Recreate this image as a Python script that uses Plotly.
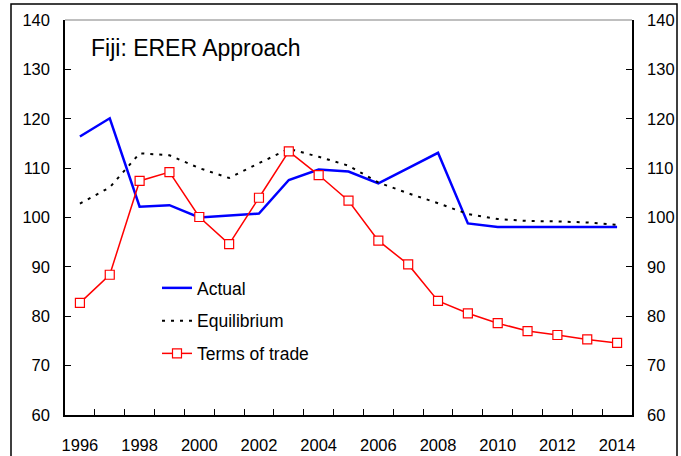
import plotly.graph_objects as go

# Annual index values, 1996-2014
years = list(range(1996, 2015))
actual = [116.4, 120.1, 102.2, 102.5, 100.0, 100.4, 100.8, 107.6, 109.7, 109.3,
          106.9, 110.0, 113.1, 98.8, 98.1, 98.1, 98.1, 98.1, 98.1]
equilibrium = [102.8, 106.1, 113.0, 112.6, 110.0, 108.0, 111.0, 113.9, 112.3, 110.5,
               107.1, 104.9, 102.9, 100.7, 99.7, 99.3, 99.2, 99.0, 98.5]
terms_of_trade = [82.7, 88.4, 107.4, 109.2, 100.1, 94.6, 104.0, 113.4, 108.6, 103.4,
                  95.3, 90.5, 83.1, 80.6, 78.6, 77.0, 76.2, 75.3, 74.6]
year_labels = [str(y) for y in range(1996, 2015, 2)]

FONT = "Liberation Sans, Arial, sans-serif"

fig = go.Figure()
fig.add_trace(go.Scatter(x=years, y=actual, name="Actual", mode="lines",
                         line=dict(color="#0000ff", width=2.5),
                         legendgroup="a"))
fig.add_trace(go.Scatter(x=years, y=equilibrium, name="Equilibrium", mode="lines",
                         line=dict(color="black", width=2, dash="3px,6px"),
                         legendgroup="b"))
fig.add_trace(go.Scatter(x=years, y=terms_of_trade, name="Terms of trade",
                         mode="lines+markers",
                         line=dict(color="#ff0000", width=1.5),
                         marker=dict(symbol="square", size=9, color="white",
                                     line=dict(color="#ff0000", width=1.2)),
                         legendgroup="c"))
# invisible trace to carry the right-hand axis
fig.add_trace(go.Scatter(x=[years[0]], y=[actual[0]], yaxis="y2", mode="lines",
                         line=dict(width=0), showlegend=False, hoverinfo="skip"))

axis_font = dict(family=FONT, size=16.5, color="black")
yax = dict(range=[60, 140], dtick=10, tick0=60, ticks="inside", ticklen=6,
           tickwidth=1, tickcolor="black", showline=True, linecolor="black",
           linewidth=1.5, showgrid=False, zeroline=False, tickfont=axis_font,
           ticklabelstandoff=10, automargin=False)

fig.update_layout(
    width=681, height=456,
    margin=dict(l=65, r=49, t=20, b=41),
    paper_bgcolor="white", plot_bgcolor="white",
    xaxis=dict(range=[1995.5, 2014.5], tickvals=list(range(1996, 2015, 2)),
               ticktext=year_labels, ticks="", showline=True, linecolor="black",
               linewidth=1.5, showgrid=False, zeroline=False, tickfont=axis_font,
               ticklabelstandoff=14, automargin=False,
               minor=dict(tickvals=[y + 0.5 for y in range(1996, 2014)],
                          ticks="inside", ticklen=6, tickwidth=1,
                          tickcolor="black", showgrid=False)),
    yaxis=yax,
    yaxis2=dict(yax, overlaying="y", side="right"),
    showlegend=True,
    legend=dict(x=(157 - 65) / 567, y=(415 - 270) / 395, xanchor="left",
                yanchor="top", bgcolor="rgba(0,0,0,0)",
                font=dict(family=FONT, size=17.5, color="black"),
                traceorder="grouped", tracegroupgap=7, itemwidth=30),
    annotations=[dict(text="Fiji: ERER Approach", xref="paper", yref="paper",
                      x=(89 - 65) / 567, y=(415 - 48) / 395, xanchor="left",
                      yanchor="middle", showarrow=False,
                      font=dict(family=FONT, size=23, color="black"))],
    shapes=[
        # thin grey top edge of the plot area
        dict(type="line", xref="paper", yref="paper", x0=0, x1=1, y0=1, y1=1,
             line=dict(color="#808080", width=1.2)),
        # outer frame around the whole figure
        dict(type="rect", xref="paper", yref="paper",
             x0=(11 - 65) / 567, x1=(677 - 65) / 567,
             y0=(415 - 470) / 395, y1=(415 - 4) / 395,
             line=dict(color="black", width=1.5), fillcolor="rgba(0,0,0,0)",
             layer="below"),
    ],
)

fig.write_html("out.html")
